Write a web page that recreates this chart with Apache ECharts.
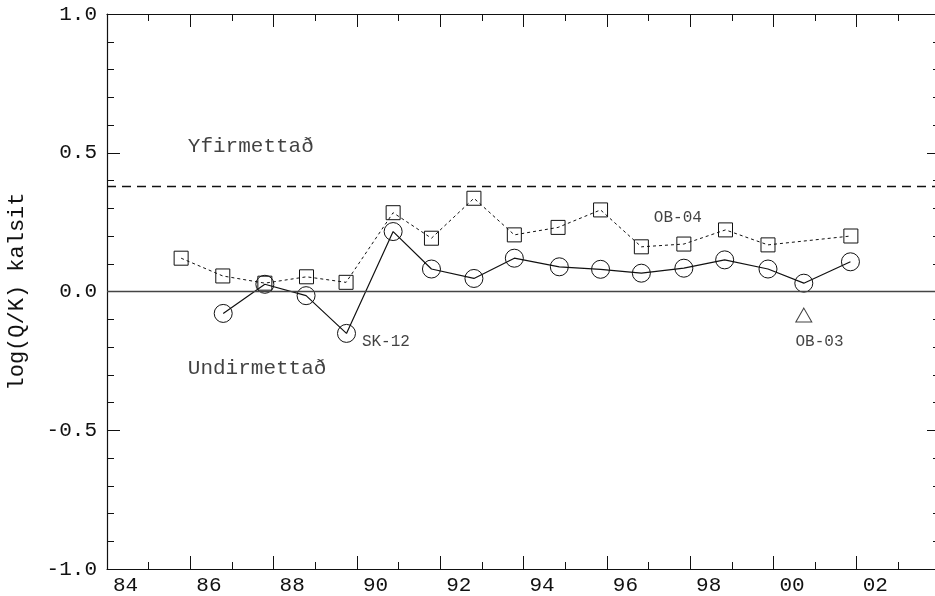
<!DOCTYPE html>
<html><head><meta charset="utf-8">
<script src="https://cdn.jsdelivr.net/npm/echarts@6/dist/echarts.min.js"></script>
<style>html,body{margin:0;padding:0;background:#fff}#c{width:935px;height:596px}</style>
</head><body><div id="c"></div>
<script>
// Square series (OB-04)
const ob04Years = [85.78, 86.78, 87.79, 88.79, 89.74, 90.87, 91.79, 92.81, 93.78, 94.83, 95.85, 96.83, 97.85, 98.85, 99.87, 101.86];
const ob04Values = [0.12, 0.056, 0.030, 0.053, 0.033, 0.284, 0.192, 0.336, 0.204, 0.231, 0.294, 0.161, 0.171, 0.222, 0.168, 0.200];
// Circle series (SK-12)
const sk12Years = [86.79, 87.79, 88.78, 89.75, 90.87, 91.79, 92.81, 93.78, 94.86, 95.85, 96.83, 97.85, 98.83, 99.87, 100.73, 101.85];
const sk12Values = [-0.079, 0.026, -0.015, -0.151, 0.216, 0.081, 0.047, 0.12, 0.089, 0.08, 0.066, 0.084, 0.114, 0.081, 0.03, 0.107];
// Triangle (OB-03)
const ob03Years = [100.73];
const ob03Values = [-0.085];
// Reference lines
const saturationLevel = 0.38;
const zeroLevel = 0;
// Annotations
const noteTexts = ['Yfirmettað', 'Undirmettað', 'SK-12', 'OB-04', 'OB-03'];
const noteYears = [85.94, 85.94, 90.12, 97.13, 100.53];
const noteValues = [0.524, -0.279, -0.182, 0.265, -0.182];
const noteSizes = [21, 21, 16, 16, 16];
// Axes
const xMin = 84, xMax = 104, xStep = 2;
const yMin = -1, yMax = 1, yStep = 0.5;
const yName = 'log(Q/K) kalsit';

const FONT = 'Liberation Mono';
const INK = '#111';
const pair = (xs, ys) => xs.map((x, i) => [x, ys[i]]);

const tickCommon = {inside: true, lineStyle: {color: INK, width: 1}};
const lineCommon = {onZero: false, lineStyle: {color: INK, width: 1.2}};
const chart = echarts.init(document.getElementById('c'));
chart.setOption({
  animation: false,
  backgroundColor: '#fff',
  grid: {left: 107, top: 14, width: 833, height: 555, containLabel: false, outerBoundsMode: 'none'},
  xAxis: [
    {type: 'value', min: xMin, max: xMax, interval: xStep, position: 'bottom',
     axisLine: lineCommon,
     axisTick: Object.assign({length: 13}, tickCommon),
     minorTick: {show: true, splitNumber: 2, length: 7, lineStyle: {color: INK}},
     splitLine: {show: false},
     axisLabel: {fontFamily: FONT, fontSize: 21, color: INK, margin: 6, align: 'left', padding: [0, 0, 0, 6],
       showMaxLabel: false,
       formatter: v => String(Math.round(v) % 100).padStart(2, '0')}},
    {type: 'value', min: xMin, max: xMax, interval: xStep, position: 'top',
     axisLine: lineCommon,
     axisTick: Object.assign({length: 13}, tickCommon),
     minorTick: {show: true, splitNumber: 2, length: 7, lineStyle: {color: INK}},
     splitLine: {show: false}, axisLabel: {show: false}}
  ],
  yAxis: [
    {type: 'value', min: yMin, max: yMax, interval: yStep, position: 'left',
     name: yName, nameLocation: 'middle', nameGap: 79, nameRotate: 90,
     nameTextStyle: {fontFamily: FONT, fontSize: 22, color: INK},
     axisLine: lineCommon,
     axisTick: Object.assign({length: 13}, tickCommon),
     minorTick: {show: true, splitNumber: 5, length: 7, lineStyle: {color: INK}},
     splitLine: {show: false},
     axisLabel: {fontFamily: FONT, fontSize: 21, color: INK, margin: 10,
       formatter: v => v.toFixed(1)}},
    {type: 'value', min: yMin, max: yMax, interval: yStep, position: 'right',
     axisLine: lineCommon,
     axisTick: Object.assign({length: 13}, tickCommon),
     minorTick: {show: true, splitNumber: 5, length: 7, lineStyle: {color: INK}},
     splitLine: {show: false}, axisLabel: {show: false}}
  ],
  series: [
    {type: 'line', data: pair(ob04Years, ob04Values), symbol: 'rect', symbolSize: 14,
     lineStyle: {color: INK, width: 1, type: [3, 3]},
     itemStyle: {color: 'rgba(0,0,0,0)', borderColor: INK, borderWidth: 1},
     z: 3,
     markLine: {silent: true, symbol: 'none', label: {show: false},
       data: [
         {yAxis: saturationLevel, lineStyle: {color: INK, width: 1.3, type: [9, 6]}},
         {yAxis: zeroLevel, lineStyle: {color: '#444', width: 1.3, type: 'solid'}}
       ]}},
    {type: 'line', data: pair(sk12Years, sk12Values), symbol: 'circle', symbolSize: 18,
     lineStyle: {color: INK, width: 1.2},
     itemStyle: {color: 'rgba(0,0,0,0)', borderColor: INK, borderWidth: 1}, z: 4},
    {type: 'scatter', data: pair(ob03Years, ob03Values), symbol: 'triangle', symbolSize: [16, 14],
     itemStyle: {color: 'rgba(0,0,0,0)', borderColor: INK, borderWidth: 1}},
    {type: 'scatter', symbolSize: 0, silent: true,
     data: noteTexts.map((t, i) => ({value: [noteYears[i], noteValues[i]],
       label: {show: true, formatter: t, position: 'right', distance: 0,
         fontFamily: FONT, fontSize: noteSizes[i], color: INK, align: 'left', verticalAlign: 'middle'}}))}
  ]
});
</script></body></html>
